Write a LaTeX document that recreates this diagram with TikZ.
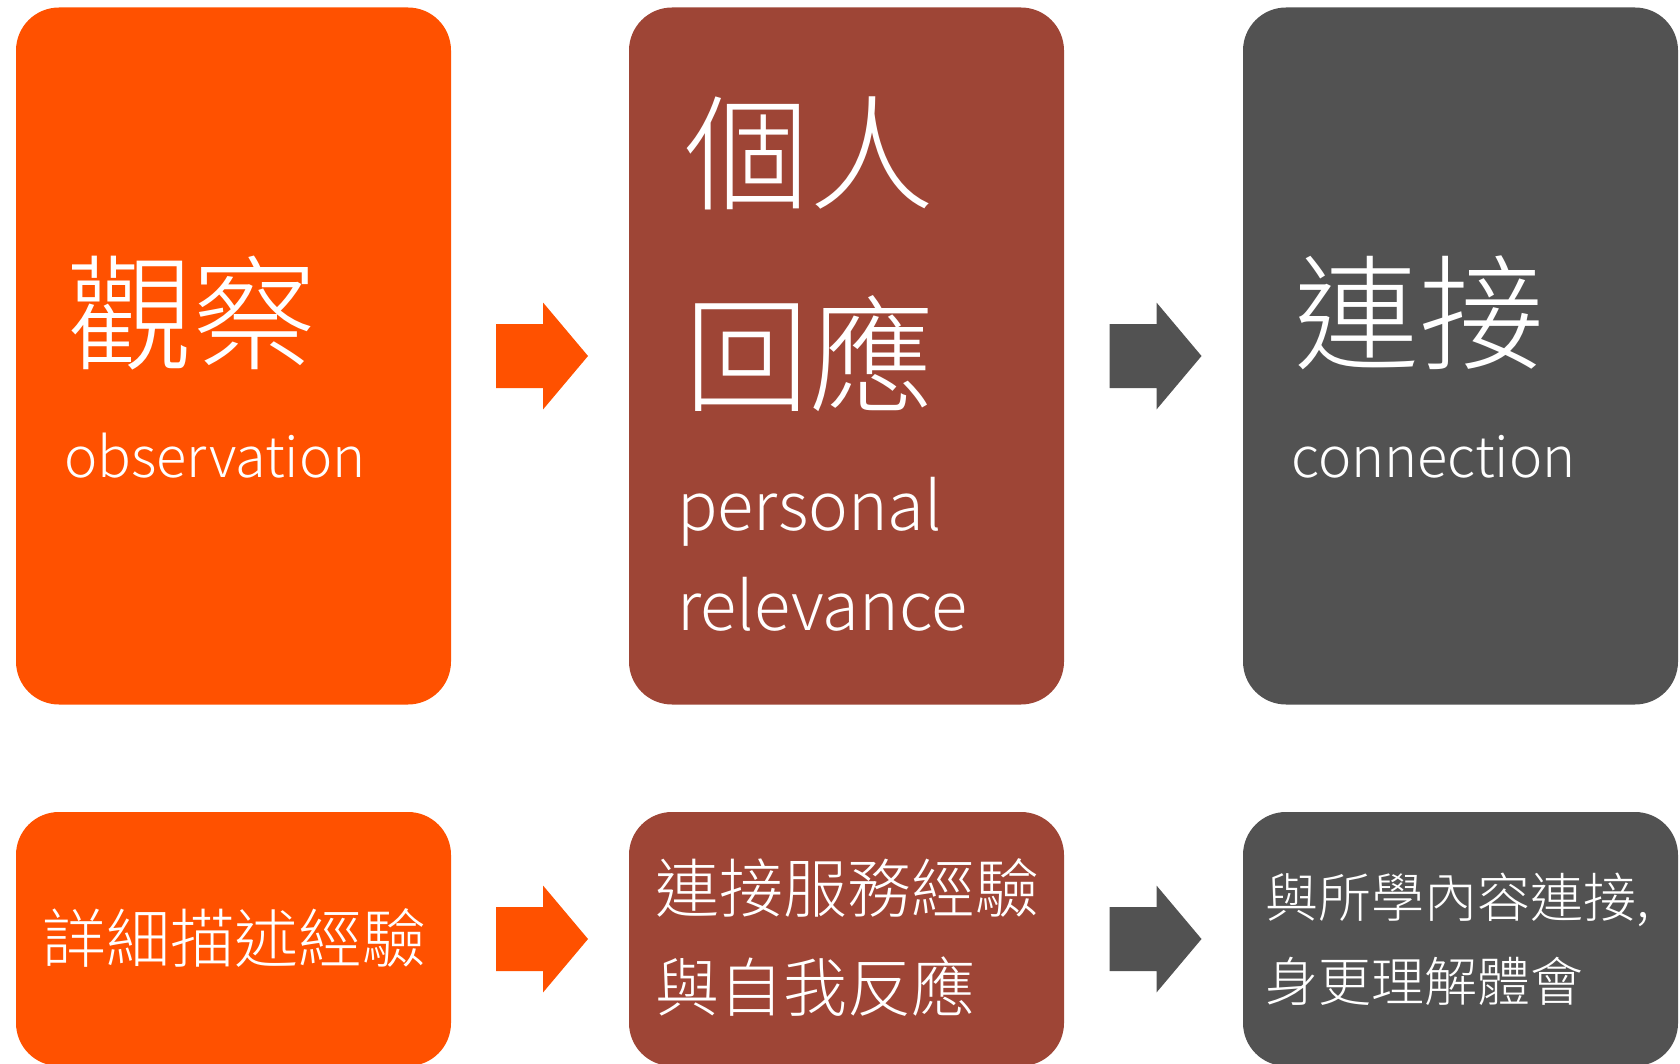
\documentclass[tikz,border=0pt]{standalone}
\usepackage{fontspec}
\setmainfont{Noto Sans CJK TC}[UprightFont=* Light]
\usetikzlibrary{calc}
\definecolor{obsorange}{HTML}{FF5100}
\definecolor{relbrown}{HTML}{9E4536}
\definecolor{congray}{HTML}{525252}
\tikzset{
  topbox/.style={rounded corners=21.5pt,minimum width=217.5pt,minimum height=348.5pt,inner sep=0},
  lowbox/.style={rounded corners=21.5pt,minimum width=217.5pt,minimum height=127pt,inner sep=0},
  txt/.style={text=white,inner sep=0,anchor=base west}
}
\newcommand{\stepArrow}[2]{\fill[#2](#1)++(-44,-32)--++(47,0)--++(0,-21.5)--++(45,53.5)--++(-45,53.5)--++(0,-21.5)--++(-47,0)--cycle;}
\begin{document}
\begin{tikzpicture}[x=0.5pt,y=-0.5pt]
\useasboundingbox(0,0)rectangle(1680,1064);
\clip(0,0)rectangle(1680,1064);
\node[topbox,fill=obsorange](obs)at(233.5,356){};
\node[topbox,fill=relbrown](rel)at(846.5,356){};
\node[topbox,fill=congray](con)at(1460.5,356){};
\node[lowbox,fill=obsorange](det)at(233.5,939){};
\node[lowbox,fill=relbrown](srv)at(846.5,939){};
\node[lowbox,fill=congray](lrn)at(1460.5,939){};
\coordinate(a1)at($(obs.east)!0.5!(rel.west)$);
\coordinate(a2)at($(rel.east)!0.5!(con.west)$);
\coordinate(b1)at($(det.east)!0.5!(srv.west)$);
\coordinate(b2)at($(srv.east)!0.5!(lrn.west)$);
\stepArrow{a1}{obsorange}\stepArrow{a2}{congray}
\stepArrow{b1}{obsorange}\stepArrow{b2}{congray}
\node[txt,font=\fontsize{62.5}{70}\selectfont](obsT)at(67,360.5){觀察};
\node[txt,font=\fontsize{28}{34}\selectfont](obsE)at(64,477){observation};
\node[txt,font=\fontsize{62.5}{70}\selectfont](relT1)at(684,201){個人};
\node[txt,font=\fontsize{62.5}{70}\selectfont](relT2)at(684,402){回應};
\node[txt,font=\fontsize{33.5}{40}\selectfont](relE1)at(677,530){personal};
\node[txt,font=\fontsize{33.5}{40}\selectfont](relE2)at(677,630){relevance};
\node[txt,font=\fontsize{62.5}{70}\selectfont](conT)at(1294,360){連接};
\node[txt,font=\fontsize{28}{34}\selectfont](conE)at(1291,477){connection};
\node[txt,font=\fontsize{32}{36}\selectfont](detT)at(42,962){詳細描述經驗};
\node[txt,font=\fontsize{32}{36}\selectfont](srvT1)at(655,912){連接服務經驗};
\node[txt,font=\fontsize{32}{36}\selectfont](srvT2)at(655,1011){與自我反應};
\node[txt,font=\fontsize{26.5}{30}\selectfont](lrnT1)at(1265,917){與所學內容連接,};
\node[txt,font=\fontsize{26.5}{30}\selectfont](lrnT2)at(1265,1001){身更理解體會};
\end{tikzpicture}
\end{document}
